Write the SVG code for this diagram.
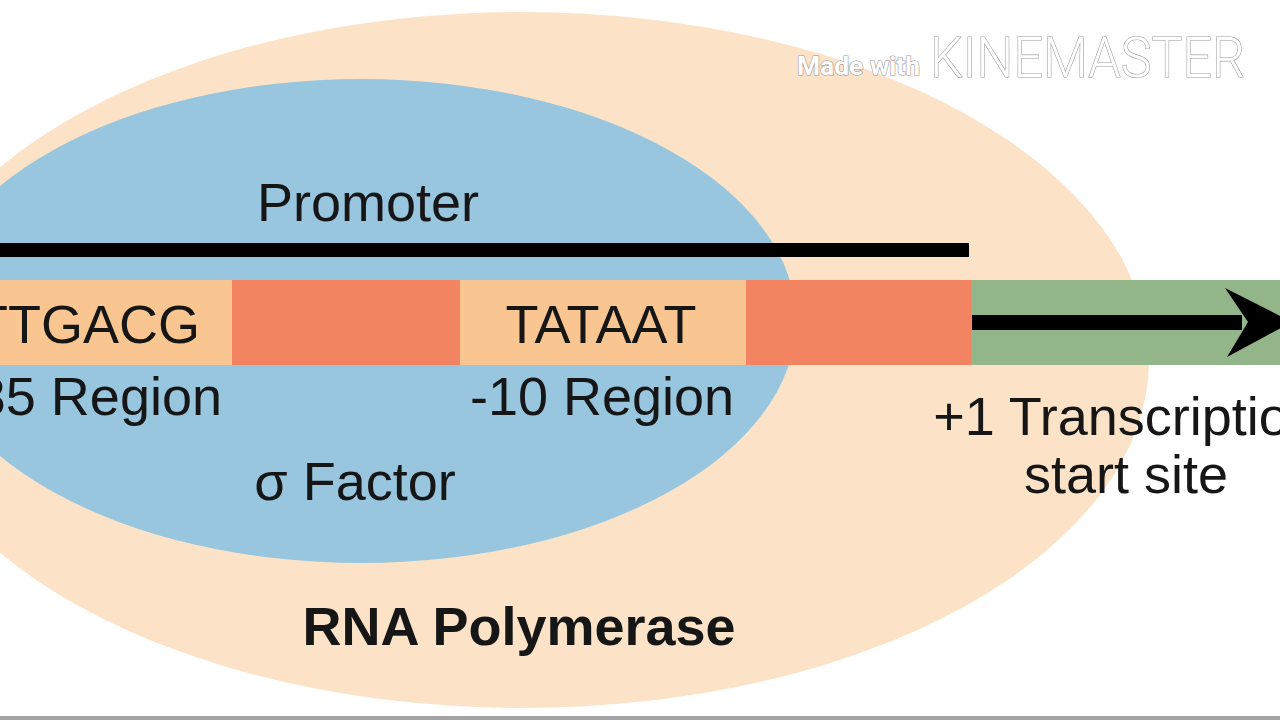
<svg xmlns="http://www.w3.org/2000/svg" width="1280" height="720" viewBox="0 0 1280 720">
  <style>
    .lbl { font-family: "Liberation Sans", Arial, sans-serif; font-size: 54px; fill: #161616; }
    .bold { font-weight: bold; }
    .wm { font-family: Roboto, "Liberation Sans", sans-serif; fill: #ffffff; stroke: #9a9a9a; stroke-width: 1.2px; paint-order: stroke; }
  </style>
  <rect x="0" y="0" width="1280" height="720" fill="#ffffff"/>

  <g id="rna-polymerase">
    <ellipse cx="522" cy="360" rx="627" ry="348" fill="#FCE3C8"/>
    <text class="lbl bold" x="519" y="645" text-anchor="middle">RNA Polymerase</text>
  </g>

  <g id="sigma-factor">
    <ellipse cx="361" cy="321" rx="435" ry="242" fill="#98C6DE"/>
    <text class="lbl" x="355" y="500" text-anchor="middle">σ Factor</text>
  </g>

  <g id="promoter">
    <rect x="0" y="243" width="969" height="14" fill="#000000"/>
    <text class="lbl" x="368" y="221" text-anchor="middle">Promoter</text>
  </g>

  <g id="region-35">
    <rect x="0" y="280" width="232" height="85" fill="#F9C590"/>
    <text class="lbl" x="200" y="343" text-anchor="end">TTGACG</text>
    <text class="lbl" x="222" y="415" text-anchor="end">-35 Region</text>
  </g>

  <g id="spacer-1">
    <rect x="232" y="280" width="228" height="85" fill="#F28461"/>
  </g>

  <g id="region-10">
    <rect x="460" y="280" width="286" height="85" fill="#F9C590"/>
    <text class="lbl" x="601" y="343" text-anchor="middle">TATAAT</text>
    <text class="lbl" x="602" y="415" text-anchor="middle">-10 Region</text>
  </g>

  <g id="spacer-2">
    <rect x="746" y="280" width="225" height="85" fill="#F28461"/>
  </g>

  <g id="transcribed">
    <rect x="971" y="280" width="309" height="85" fill="#93B58A"/>
  </g>

  <g id="start-site">
    <text class="lbl" x="1126" y="435" text-anchor="middle">+1 Transcription</text>
    <text class="lbl" x="1126" y="493" text-anchor="middle">start site</text>
  </g>

  <g id="connectors">
    <rect x="972" y="315" width="270" height="15" fill="#000000"/>
    <polygon points="1225,288 1292,322 1227,357 1248,322" fill="#000000"/>
  </g>

  <g id="watermark">
    <text class="wm" x="797" y="75" font-size="26" font-weight="bold" textLength="123" lengthAdjust="spacingAndGlyphs">Made with</text>
    <text class="wm" x="930" y="77" font-size="56" font-weight="300" textLength="315" lengthAdjust="spacingAndGlyphs">KINEMASTER</text>
  </g>

  <rect x="0" y="716" width="1280" height="4" fill="#A3A3A3"/>
</svg>
